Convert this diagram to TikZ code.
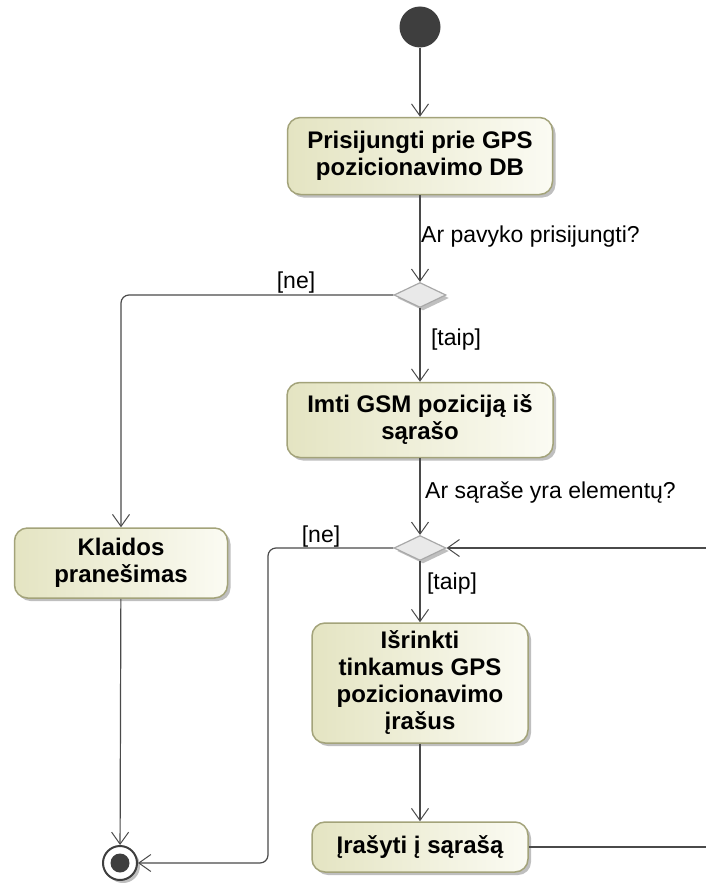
\documentclass[tikz,border=0pt]{standalone}
\usepackage{fontspec}
\setmainfont{Liberation Sans}
\usetikzlibrary{arrows.meta,shadows,shapes.geometric}

\definecolor{edge}{HTML}{4A4A4A}
\definecolor{actborder}{HTML}{A3A37A}
\definecolor{actlight}{HTML}{FBFBF3}
\definecolor{actdark}{HTML}{E4E4C2}
\definecolor{decborder}{HTML}{A8A8A8}
\definecolor{decfill}{HTML}{E9E9E9}
\definecolor{nodedark}{HTML}{3E3E3E}

\tikzset{
  softshadow/.style={drop shadow={shadow xshift=3pt, shadow yshift=-3pt, opacity=0.25, fill=black}},
  action/.style={rectangle, rounded corners=13pt, draw=actborder, line width=1.5pt,
    left color=actdark, right color=actlight, inner sep=0pt, align=center,
    font=\bfseries\fontsize{24}{27}\selectfont, softshadow},
  decision/.style={diamond, draw=decborder, line width=1.2pt, fill=decfill,
    minimum width=52pt, minimum height=25pt, inner sep=0pt, softshadow},
  flow/.style={draw=edge, line width=1.2pt, rounded corners=8pt,
    -{Straight Barb[length=12pt,width=17pt,line width=1pt]}},
  plain/.style={draw=edge, line width=1.2pt},
  guard/.style={font=\fontsize{23}{26}\selectfont, inner sep=0pt}
}

\begin{document}
\begin{tikzpicture}[x=1pt,y=-1pt]
\useasboundingbox (0,0) rectangle (706,883);

% initial node
\node[circle, fill=nodedark, minimum size=41pt, inner sep=0pt] (start) at (420,27) {};

% actions
\node[action, minimum width=265pt, minimum height=77pt] (a1) at (420,156)
  {Prisijungti prie GPS\\pozicionavimo DB};
\node[action, minimum width=266pt, minimum height=75pt] (a2) at (420,420)
  {Imti GSM poziciją iš\\sąrašo};
\node[action, minimum width=213pt, minimum height=70pt] (kl) at (121,563)
  {Klaidos\\pranešimas};
\node[action, minimum width=216pt, minimum height=120pt] (a3) at (420,683)
  {Išrinkti\\tinkamus GPS\\pozicionavimo\\įrašus};
\node[action, minimum width=216pt, minimum height=50pt] (a4) at (420,847)
  {Įrašyti į sąrašą};

% decisions
\node[decision] (d1) at (420,295) {};
\node[decision] (d2) at (420,548) {};

% final node
\node[circle, draw=nodedark, line width=2pt, fill=white, minimum size=34pt,
  inner sep=0pt, softshadow] (fin) at (120,863) {};
\fill[nodedark] (fin.center) circle (9.5pt);

% loop ends leaving the drawing area
\coordinate (loopout) at (706,847);
\coordinate (loopin) at (706,548);
\coordinate (c2) at (268,863);

% control flows
\draw[flow] (start) -- (a1);
\draw[flow] (a1) -- (d1);
\draw[flow] (d1.west) -| (kl.north);
\draw[flow] (d1.south) -- (a2.north);
\draw[flow] (a2) -- (d2);
\draw[flow] (d2.west) -| (c2) -- (fin.east);
\draw[flow] (d2.south) -- (a3.north);
\draw[flow] (a3) -- (a4);
\draw[plain] (a4.east) -- (loopout);
\draw[flow] (loopin) -- (d2.east);
\draw[flow] (kl) -- (fin);

% guards and questions
\node[guard, anchor=west] (q1) at (421,237) {Ar pavyko prisijungti?};
\node[guard] (g1) at (296,283) {[ne]};
\node[guard] (g2) at (456,340) {[taip]};
\node[guard, anchor=west] (q2) at (425,493) {Ar sąraše yra elementų?};
\node[guard] (g3) at (321,537) {[ne]};
\node[guard] (g4) at (452,584) {[taip]};
\end{tikzpicture}
\end{document}
